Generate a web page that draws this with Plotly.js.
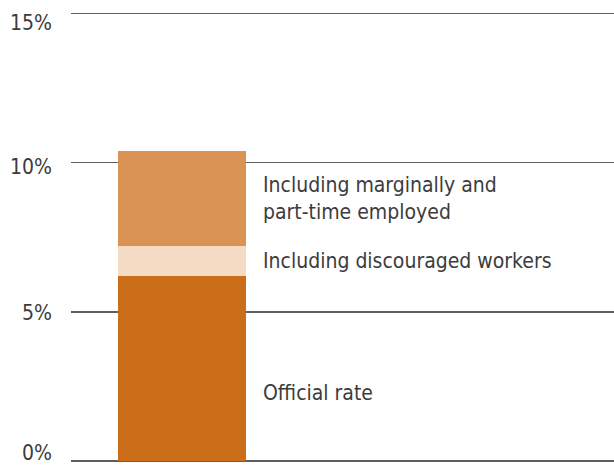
<!DOCTYPE html>
<html>
<head>
<meta charset="utf-8">
<script src="https://cdn.plot.ly/plotly-3.0.1.min.js"></script>
<style>html,body{margin:0;padding:0;background:#fff;}#chart{width:614px;height:466px;}</style>
</head>
<body>
<div id="chart"></div>
<script>
const category = [""];
const seriesNames = ["Official rate", "Including discouraged workers", "Including marginally and<br>part-time employed"];
const officialRate = [6.2];
const discouraged = [1.0];
const marginal = [3.2];
const tickValues = [0, 5, 10, 15];
const tickLabels = ["0%", "5%", "10%", "15%"];

const FONT = "'Liberation Sans Narrow', 'DejaVu Sans Condensed', 'Roboto Condensed', sans-serif";
const colors = ["#CC6D1A", "#F5DBC3", "#DB9355"];
const series = [officialRate, discouraged, marginal];

const traces = series.map((vals, i) => ({
  type: "bar",
  x: category,
  y: vals,
  name: seriesNames[i],
  width: [1],
  marker: {color: colors[i], line: {width: 0}},
  hoverinfo: "skip"
}));

let base = 0;
const annotations = series.map((vals, i) => {
  const mid = base + vals[0] / 2;
  base += vals[0];
  return {
    x: 0.615, xref: "x", y: mid, yref: "y",
    text: seriesNames[i], showarrow: false,
    xanchor: "left", yanchor: "middle", align: "left",
    yshift: i === 0 ? -24 : 0,
    font: {family: FONT, size: 21, color: "#3c3c3c"}
  };
});

// tick labels drawn as annotations so the edge labels stay inside the page
const tickShift = [8, -1, -4, -10];
tickValues.forEach((v, i) => {
  annotations.push({
    x: 0, xref: "paper", xanchor: "right", xshift: -18,
    y: v, yref: "y", yanchor: "middle", yshift: tickShift[i],
    text: tickLabels[i], showarrow: false, borderpad: 0,
    font: {family: FONT, size: 21, color: "#3c3c3c"}
  });
});

const layout = {
  width: 614, height: 466,
  margin: {l: 71, r: 0, t: 12, b: 5, pad: 0},
  barmode: "stack",
  showlegend: false,
  paper_bgcolor: "#fff", plot_bgcolor: "#fff",
  xaxis: {range: [-0.867, 3.375], showgrid: false, zeroline: false, showticklabels: false, showline: false, fixedrange: true},
  yaxis: {
    range: [0, 15.05], tickvals: tickValues, ticktext: tickLabels,
    showgrid: true, gridcolor: "#5f5f5f", gridwidth: 1.5,
    zeroline: true, zerolinecolor: "#5f5f5f", zerolinewidth: 2,
    ticks: "", showticklabels: false,
    fixedrange: true
  },
  annotations: annotations
};

Plotly.newPlot("chart", traces, layout, {displayModeBar: false, staticPlot: true});
</script>
</body>
</html>
